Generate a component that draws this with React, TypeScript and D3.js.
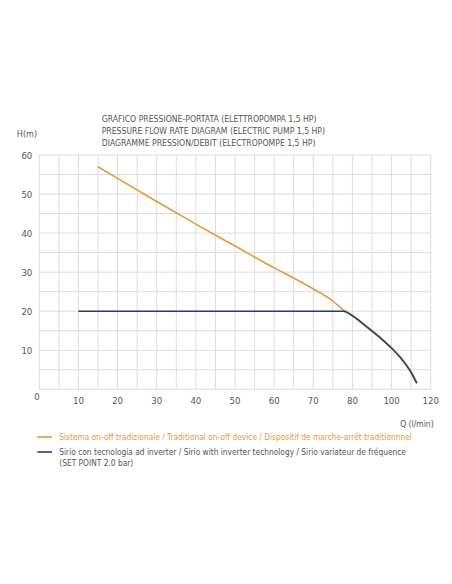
import React, { useEffect, useRef } from 'react';
import * as d3 from 'd3';

// Orange curve : traditional on-off device
const onOffQ = [15, 20, 30, 40, 50, 60, 65, 70, 75, 77.7, 80, 85, 90, 95, 100, 105, 110, 112.9];
const onOffH = [57.0, 54.0, 48.1, 42.3, 36.7, 31.1, 28.5, 25.7, 22.6, 20.3, 19.0, 17.1, 15.1, 13.0, 10.7, 8.0, 4.5, 1.7];

// Blue curve : Sirio inverter (set point 2.0 bar)
const sirioQ = [10, 20, 40, 60, 77.7, 80, 85, 90, 95, 100, 105, 110, 112.9];
const sirioH = [20, 20, 20, 20, 20, 18.8, 16.9, 14.9, 12.8, 10.5, 7.8, 4.3, 1.5];

const xTicks = [10, 20, 30, 40, 50, 60, 70, 80, 100, 120];
const yTicks = [10, 20, 30, 40, 50, 60];
const xGrid = [0, 5, 10, 15, 20, 25, 30, 35, 40, 45, 50, 55, 60, 65, 70, 75, 80, 90, 100, 110, 120];
const yGrid = [0, 5, 10, 15, 20, 25, 30, 35, 40, 45, 50, 55, 60];

const titles = [
  'GRAFICO PRESSIONE-PORTATA (ELETTROPOMPA 1,5 HP)',
  'PRESSURE FLOW RATE DIAGRAM (ELECTRIC PUMP 1,5 HP)',
  'DIAGRAMME PRESSION/DEBIT (ELECTROPOMPE 1,5 HP)',
];
const legendOnOff = 'Sistema on-off tradizionale / Traditional on-off device / Dispositif de marche-arrêt traditionnnel';
const legendSirio = [
  'Sirio con tecnologia ad inverter / Sirio with inverter technology / Sirio variateur de fréquence',
  '(SET POINT 2.0 bar)',
];

const ORANGE = '#e59a3c';
const BLUE = '#2f3878';
const TEXT = '#555';
const FONT = '"Liberation Sans Narrow", "DejaVu Sans Condensed", sans-serif';

function drawChart(container) {
  const W = 452, H = 584;
  const margin = { left: 39.3, top: 155, right: 21.3, bottom: 194.7 };
  const width = W - margin.left - margin.right;
  const height = H - margin.top - margin.bottom;

  const root = d3.select(container);
  root.selectAll('*').remove();
  const svgRoot = root.append('svg').attr('width', W).attr('height', H)
    .style('position', 'absolute').style('left', 0).style('top', 0)
    .style('background', '#fff');
  svgRoot.append('rect').attr('width', W).attr('height', H).attr('fill', '#fff');

  const svg = svgRoot.append('g').attr('transform', `translate(${margin.left},${margin.top})`);

  // axe des Q : echelle par morceaux (5 par case jusqu'a 80, 10 par case ensuite)
  const x = d3.scaleLinear().domain([0, 80, 120]).range([0, width * 0.8, width]);
  const y = d3.scaleLinear().domain([0, 60]).range([height, 0]);

  // grille
  svg.append('g').selectAll('line').data(xGrid).join('line')
    .attr('x1', d => x(d)).attr('x2', d => x(d))
    .attr('y1', 0).attr('y2', height)
    .attr('stroke', '#dcdcdc').attr('stroke-width', 1);
  svg.append('g').selectAll('line').data(yGrid).join('line')
    .attr('x1', 0).attr('x2', width)
    .attr('y1', d => y(d)).attr('y2', d => y(d))
    .attr('stroke', '#dcdcdc').attr('stroke-width', 1);

  // etiquettes des axes
  svg.append('g').selectAll('text').data(xTicks).join('text')
    .attr('x', d => x(d)).attr('y', height + 15)
    .attr('text-anchor', 'middle')
    .attr('font-family', FONT).attr('font-size', 9.5).attr('fill', TEXT)
    .text(d => d);
  svg.append('g').selectAll('text').data(yTicks).join('text')
    .attr('x', -7).attr('y', d => y(d) + 3.5)
    .attr('text-anchor', 'end')
    .attr('font-family', FONT).attr('font-size', 9.5).attr('fill', TEXT)
    .text(d => d);
  svg.append('text')
    .attr('x', -5).attr('y', height + 11)
    .attr('font-family', FONT).attr('font-size', 9.5).attr('fill', TEXT)
    .text('0');

  svg.append('text')
    .attr('x', -22.5).attr('y', -18.5)
    .attr('font-family', FONT).attr('font-size', 9).attr('fill', TEXT)
    .text('H(m)');
  svg.append('text')
    .attr('x', width + 3).attr('y', height + 38)
    .attr('text-anchor', 'end')
    .attr('font-family', FONT).attr('font-size', 8.5).attr('fill', TEXT)
    .text('Q (l/min)');

  // titres
  svg.append('g').selectAll('text').data(titles).join('text')
    .attr('x', 62.4).attr('y', (d, i) => -33.5 + i * 12.2)
    .attr('font-family', FONT).attr('font-size', 8.6).attr('fill', TEXT)
    .text(d => d);

  // courbes
  const line = d3.line().curve(d3.curveMonotoneX).x(d => x(d[0])).y(d => y(d[1]));
  svg.append('path')
    .datum(d3.zip(onOffQ, onOffH))
    .attr('d', line)
    .attr('fill', 'none').attr('stroke', ORANGE).attr('stroke-width', 1.6);
  svg.append('path')
    .datum(d3.zip(sirioQ, sirioH))
    .attr('d', line)
    .attr('fill', 'none').attr('stroke', BLUE).attr('stroke-width', 1.6);

  // legende
  const lg = svgRoot.append('g');
  lg.append('line').attr('x1', 37.3).attr('x2', 52).attr('y1', 437).attr('y2', 437)
    .attr('stroke', ORANGE).attr('stroke-width', 1.6);
  lg.append('text').attr('x', 59.3).attr('y', 440)
    .attr('font-family', FONT).attr('font-size', 8.3).attr('fill', ORANGE)
    .text(legendOnOff);
  lg.append('line').attr('x1', 37.3).attr('x2', 52).attr('y1', 452).attr('y2', 452)
    .attr('stroke', BLUE).attr('stroke-width', 1.6);
  lg.selectAll('text.sirio').data(legendSirio).join('text')
    .attr('class', 'sirio')
    .attr('x', 59.3).attr('y', (d, i) => 455 + i * 11)
    .attr('font-family', FONT).attr('font-size', 8.3).attr('fill', TEXT)
    .text(d => d);
}

export default function App() {
  const ref = useRef(null);
  useEffect(() => {
    drawChart(ref.current);
  }, []);
  return <div ref={ref} />;
}
